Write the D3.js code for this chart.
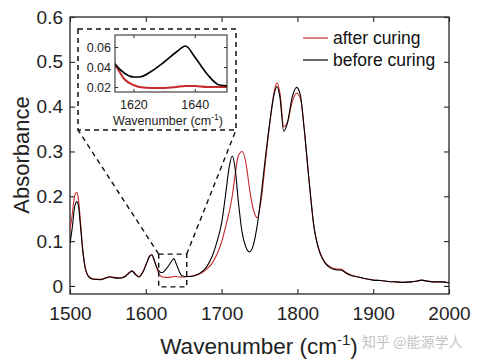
<!DOCTYPE html>
<html>
<head>
<meta charset="utf-8">
<script src="https://cdn.jsdelivr.net/npm/d3@7"></script>
<style>
body { margin: 0; background: #fff; }
svg { font-family: "Liberation Sans", Arial, Helvetica, sans-serif; }
</style>
</head>
<body>
<svg width="477" height="362"></svg>
<script>
// wavenumber samples (cm-1)
var wn = [1500,1503,1506,1509,1511,1514,1517,1520,1524,1530,1540,1548,1553,1558,1565,1572,1578,1582,1586,1591,
  1596,1601,1605,1608,1611,1614,1617,1620,1622,1626,1630,1634,1637,1640,1644,1648,1652,1660,1670,1680,
  1688,1695,1700,1705,1710,1714,1718,1722,1727,1732,1737,1742,1747,1752,1758,1764,1769,1773,1777,1782,
  1787,1793,1799,1804,1809,1814,1818,1822,1826,1830,1836,1843,1850,1858,1864,1870,1880,1890,1900,1910,
  1920,1930,1940,1950,1958,1964,1970,1980,1990,2000];

var before = [0.095,0.13,0.175,0.188,0.18,0.13,0.075,0.04,0.022,0.015,0.014,0.018,0.02,0.018,0.017,0.02,0.029,0.033,0.026,0.02,
  0.03,0.05,0.066,0.069,0.058,0.043,0.034,0.030,0.030,0.036,0.045,0.055,0.061,0.05,0.033,0.022,0.021,0.021,0.027,0.042,
  0.068,0.105,0.14,0.2,0.265,0.29,0.26,0.19,0.12,0.087,0.076,0.092,0.135,0.2,0.29,0.37,0.425,0.445,0.42,0.345,
  0.365,0.42,0.443,0.425,0.35,0.26,0.19,0.13,0.095,0.072,0.052,0.041,0.036,0.035,0.029,0.024,0.02,0.016,0.013,0.012,
  0.01,0.009,0.008,0.009,0.011,0.013,0.011,0.009,0.009,0.007];

var after = [0.125,0.16,0.2,0.209,0.195,0.14,0.08,0.042,0.023,0.016,0.015,0.019,0.021,0.019,0.018,0.021,0.03,0.034,0.027,0.021,
  0.031,0.051,0.067,0.07,0.058,0.043,0.028,0.022,0.020,0.019,0.019,0.020,0.021,0.021,0.020,0.020,0.020,0.022,0.026,0.037,
  0.052,0.075,0.098,0.13,0.165,0.2,0.25,0.29,0.3,0.275,0.215,0.17,0.152,0.19,0.28,0.37,0.43,0.453,0.43,0.355,
  0.365,0.41,0.43,0.418,0.35,0.26,0.19,0.13,0.097,0.074,0.054,0.043,0.038,0.037,0.030,0.025,0.02,0.016,0.013,0.012,
  0.010,0.009,0.008,0.009,0.011,0.013,0.011,0.009,0.009,0.007];

var xTicks = [1500,1600,1700,1800,1900,2000];
var yTicks = [0,0.1,0.2,0.3,0.4,0.5,0.6];
var insetXTicks = [1620,1640];
var insetYTicks = [0.02,0.04,0.06];
var seriesNames = ["after curing","before curing"];
var seriesColors = ["#c62a2a","#000000"];

var svg = d3.select('svg');

var x = d3.scaleLinear().domain([1500,2000]).range([70,449]);
var y = d3.scaleLinear().domain([-0.018,0.6]).range([294,17]);

var fmtY = function(d){ return d === 0 ? "0" : d3.format(".1f")(d); };

svg.append('defs').append('clipPath').attr('id','mainclip')
  .append('rect').attr('x',70).attr('y',17).attr('width',379).attr('height',277);

// axes, ticks pointing inwards
svg.append('g').attr('transform','translate(0,294)')
  .call(d3.axisBottom(x).tickValues(xTicks).tickSize(-5).tickSizeOuter(0).tickPadding(13).tickFormat(d3.format('d')))
  .call(styleAxis);
svg.append('g').attr('transform','translate(70,0)')
  .call(d3.axisLeft(y).tickValues(yTicks).tickSize(-5).tickSizeOuter(0).tickPadding(7).tickFormat(fmtY))
  .call(styleAxis);
svg.append('g').attr('transform','translate(0,17)')
  .call(d3.axisTop(x).tickValues(xTicks).tickSize(-5).tickSizeOuter(0).tickFormat(''))
  .call(styleAxis);
svg.append('g').attr('transform','translate(449,0)')
  .call(d3.axisRight(y).tickValues(yTicks).tickSize(-5).tickSizeOuter(0).tickFormat(''))
  .call(styleAxis);

function styleAxis(g){
  g.select('.domain').remove();
  g.selectAll('line').attr('stroke','#262626').attr('stroke-width',1.1);
  g.selectAll('text').attr('font-size',19).attr('fill','#222').attr('font-family','"Liberation Sans", Arial, sans-serif');
}

svg.append('rect').attr('x',70).attr('y',17).attr('width',379).attr('height',277)
  .attr('fill','none').attr('stroke','#262626').attr('stroke-width',1.3);

// curves
var pts = function(vals){ return wn.map(function(w,i){ return [w, vals[i]]; }); };
var line = d3.line().x(function(d){return x(d[0]);}).y(function(d){return y(d[1]);}).curve(d3.curveMonotoneX);

var curves = svg.append('g').attr('clip-path','url(#mainclip)');
curves.append('path').datum(pts(after)).attr('d',line)
  .attr('fill','none').attr('stroke',seriesColors[0]).attr('stroke-width',1.1);
curves.append('path').datum(pts(before)).attr('d',line)
  .attr('fill','none').attr('stroke',seriesColors[1]).attr('stroke-width',1.1);

// labels
var xl = svg.append('text').attr('x',259).attr('y',354).attr('text-anchor','middle')
  .attr('font-size',22.5).attr('fill','#222');
xl.append('tspan').text('Wavenumber (cm');
xl.append('tspan').attr('dy',-9).attr('font-size',15).text('-1');
xl.append('tspan').attr('dy',9).text(')');

svg.append('text').attr('transform','translate(29,155) rotate(-90)').attr('text-anchor','middle')
  .attr('font-size',22).attr('fill','#222').text('Absorbance');

// legend
var leg = svg.append('g');
seriesNames.forEach(function(name,i){
  var ly = 38 + i*22;
  leg.append('line').attr('x1',303).attr('x2',328).attr('y1',ly).attr('y2',ly)
    .attr('stroke',seriesColors[i]).attr('stroke-width',1.2);
  leg.append('text').attr('x',333).attr('y',ly+6).attr('font-size',17.5).attr('fill','#111').text(name);
});

// zoom box on the main plot and connectors
var zx0 = x(1617), zx1 = x(1654), zy0 = y(0.071), zy1 = y(-0.002);
var dash = '5,4';
svg.append('rect').attr('x',zx0).attr('y',zy0).attr('width',zx1-zx0).attr('height',zy1-zy0)
  .attr('fill','none').attr('stroke','#111').attr('stroke-width',1.4).attr('stroke-dasharray',dash);
svg.append('rect').attr('x',78).attr('y',29).attr('width',158).attr('height',101)
  .attr('fill','#fff').attr('stroke','#111').attr('stroke-width',1.5).attr('stroke-dasharray',dash);
svg.append('line').attr('x1',zx0).attr('y1',zy0).attr('x2',78).attr('y2',130)
  .attr('stroke','#111').attr('stroke-width',1.4).attr('stroke-dasharray',dash);
svg.append('line').attr('x1',zx1).attr('y1',zy0).attr('x2',236).attr('y2',130)
  .attr('stroke','#111').attr('stroke-width',1.4).attr('stroke-dasharray',dash);

// inset
var ix = d3.scaleLinear().domain([1614,1650.5]).range([115,227]);
var iy = d3.scaleLinear().domain([0.015,0.072]).range([92,35]);

svg.select('defs').append('clipPath').attr('id','insetclip')
  .append('rect').attr('x',115).attr('y',35).attr('width',112).attr('height',57);

function styleInset(g){
  g.select('.domain').remove();
  g.selectAll('line').attr('stroke','#333').attr('stroke-width',1);
  g.selectAll('text').attr('font-size',12.5).attr('fill','#222').attr('font-family','"Liberation Sans", Arial, sans-serif');
}
svg.append('g').attr('transform','translate(0,92)')
  .call(d3.axisBottom(ix).tickValues(insetXTicks).tickSize(-3).tickSizeOuter(0).tickPadding(8).tickFormat(d3.format('d')))
  .call(styleInset);
svg.append('g').attr('transform','translate(115,0)')
  .call(d3.axisLeft(iy).tickValues(insetYTicks).tickSize(-3).tickSizeOuter(0).tickPadding(4).tickFormat(d3.format('.2f')))
  .call(styleInset);
svg.append('g').attr('transform','translate(0,35)')
  .call(d3.axisTop(ix).tickValues(insetXTicks).tickSize(-3).tickSizeOuter(0).tickFormat(''))
  .call(styleInset);
svg.append('g').attr('transform','translate(227,0)')
  .call(d3.axisRight(iy).tickValues(insetYTicks).tickSize(-3).tickSizeOuter(0).tickFormat(''))
  .call(styleInset);

var iline = d3.line().x(function(d){return ix(d[0]);}).y(function(d){return iy(d[1]);}).curve(d3.curveMonotoneX);
var inset = svg.append('g').attr('clip-path','url(#insetclip)');
inset.append('path').datum(pts(after)).attr('d',iline)
  .attr('fill','none').attr('stroke',seriesColors[0]).attr('stroke-width',2);
inset.append('path').datum(pts(before)).attr('d',iline)
  .attr('fill','none').attr('stroke',seriesColors[1]).attr('stroke-width',1.6);

svg.append('rect').attr('x',115).attr('y',35).attr('width',112).attr('height',57)
  .attr('fill','none').attr('stroke','#333').attr('stroke-width',1.1);

var il = svg.append('text').attr('x',168).attr('y',125).attr('text-anchor','middle')
  .attr('font-size',12.5).attr('fill','#222');
il.append('tspan').text('Wavenumber (cm');
il.append('tspan').attr('dy',-5).attr('font-size',8.5).text('-1');
il.append('tspan').attr('dy',5).text(')');

// watermark
svg.append('text').attr('x',362).attr('y',347).attr('font-size',14)
  .attr('font-family','"Noto Sans CJK SC", sans-serif').attr('fill','#c4c4c4').text('知乎 @能源学人');
</script>
</body>
</html>
